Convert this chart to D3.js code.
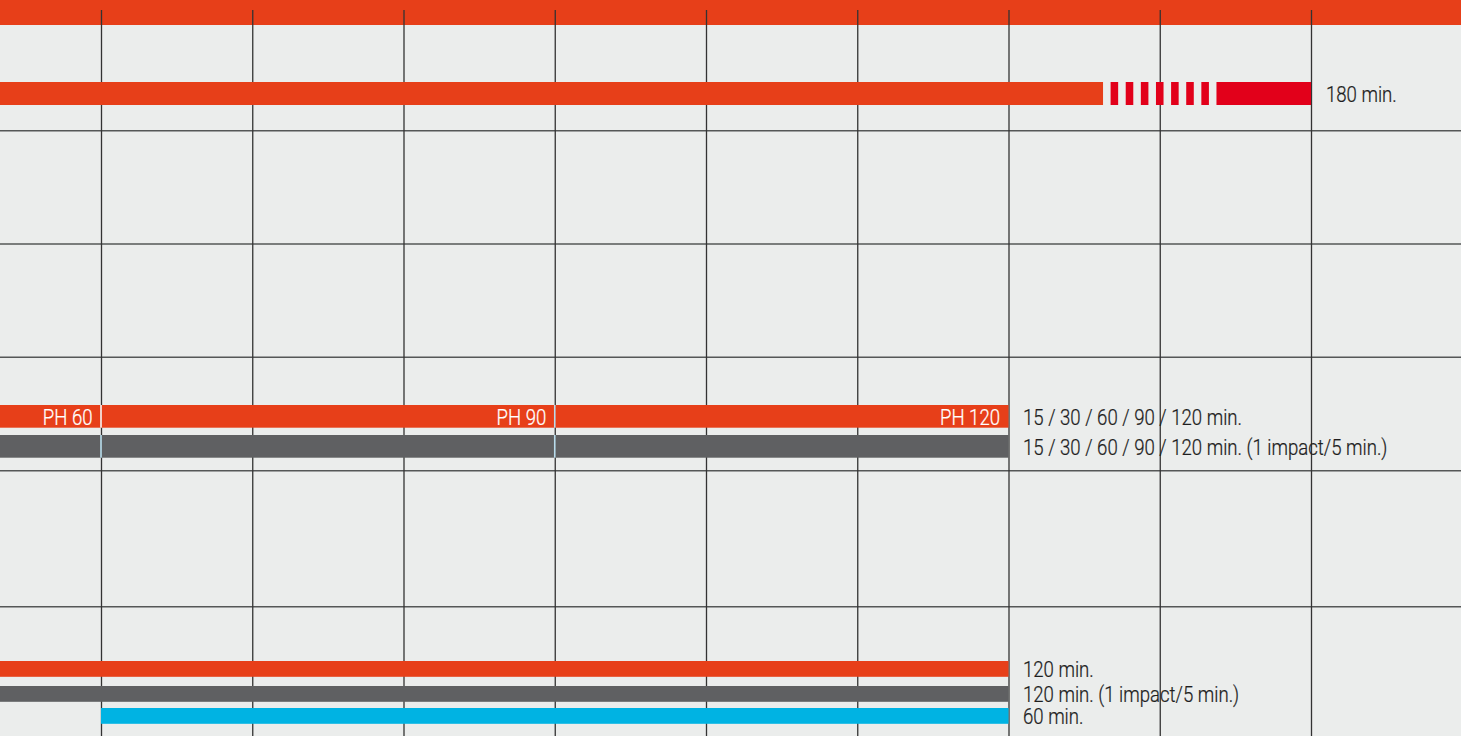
<!DOCTYPE html>
<html>
<head>
<meta charset="utf-8">
<script src="https://cdn.jsdelivr.net/npm/d3@7/dist/d3.min.js"></script>
<style>
  html, body { margin: 0; padding: 0; background: #ebedec; overflow: hidden; }
  svg { display: block; }
  text { font-family: Roboto, "Liberation Sans", sans-serif; font-weight: 300; }
</style>
</head>
<body>
<svg id="chart"></svg>
<script>
// ---------- DATA ----------
const gridMinutes = [60, 70, 80, 90, 100, 110, 120, 130, 140];
// top row: 180 min (axis broken; drawn up to the 140 grid line)
const topSolid = [0, 126.25];
const topDashes = [126.75, 127.75, 128.75, 129.75, 130.75, 131.75, 132.75];
const topDashWidth = 0.5;
const topEnd = [133.75, 140];
const topLabel = "180 min.";
// PH row
const phSegments = [[0, 60], [60, 90], [90, 120]];
const phLabels = ["PH 60", "PH 90", "PH 120"];
const phSeparators = [60, 90];
const phGray = [0, 120];
const phRowLabels = ["15 / 30 / 60 / 90 / 120 min.", "15 / 30 / 60 / 90 / 120 min. (1 impact/5 min.)"];
// bottom rows
const bottomSeries = ["orange", "gray", "blue"];
const bottomRanges = [[0, 120], [0, 120], [60, 120]];
const bottomLabels = ["120 min.", "120 min. (1 impact/5 min.)", "60 min."];

// ---------- LAYOUT ----------
const W = 1461, H = 736;
const colors = { orange: "#e73f19", red: "#e2001a", gray: "#5f6062", blue: "#00b3e3", bg: "#ebedec", sep: "#b9dcec" };
const svg = d3.select("#chart").attr("width", W).attr("height", H);
svg.append("rect").attr("width", W).attr("height", H).attr("fill", colors.bg);

const x = d3.scaleLinear().domain([60, 140]).range([101, 1311]);
const hLineY = [130.7, 244, 357.3, 470.7, 606.7];
const labelX = 1023;
const fs = 22;
const condense = 0.845;

// top band
svg.append("rect").attr("x", 0).attr("y", 0).attr("width", W).attr("height", 25).attr("fill", colors.orange);

// horizontal grid
svg.append("g").selectAll("line").data(hLineY).join("line")
  .attr("x1", 0).attr("x2", W).attr("y1", d => d).attr("y2", d => d)
  .attr("stroke", "#555757").attr("stroke-width", 1.6);

// vertical grid via axis
const axis = d3.axisTop(x).tickValues(gridMinutes).tickSize(-(H - 10)).tickFormat("");
const ag = svg.append("g").attr("transform", "translate(0,10)").call(axis);
ag.select(".domain").remove();
ag.selectAll(".tick line").attr("stroke", "#333").attr("stroke-width", 1.3);

const g = svg.append("g");
const bar = (x0, x1, y, h, fill) => g.append("rect")
  .attr("x", x(x0)).attr("y", y).attr("width", x(x1) - x(x0)).attr("height", h).attr("fill", fill);
const label = (t, xx, y, anchor, fill) => g.append("text")
  .attr("transform", `translate(${xx},${y}) scale(${condense},1)`)
  .attr("text-anchor", anchor).attr("fill", fill).attr("font-size", fs)
  .attr("stroke", fill).attr("stroke-width", 0.25).text(t);

// top row
bar(topSolid[0], topSolid[1], 82, 23, colors.orange);
g.append("g").selectAll("rect").data(topDashes).join("rect")
  .attr("x", d => x(d)).attr("y", 82).attr("width", d => x(d + topDashWidth) - x(d)).attr("height", 23)
  .attr("fill", colors.red);
bar(topEnd[0], topEnd[1], 82, 23, colors.red);
label(topLabel, 1326, 101.7, "start", "#1e1e1e");

// PH row
phSegments.forEach((s, i) => {
  bar(s[0], s[1], 405, 22.7, colors.orange);
  label(phLabels[i], x(s[1]) - 8.5, 425, "end", "#fff");
});
bar(phGray[0], phGray[1], 435, 22.7, colors.gray);
phSeparators.forEach(s => {
  g.append("rect").attr("x", x(s) - 0.8).attr("y", 405).attr("width", 1.6).attr("height", 22.7).attr("fill", s === 60 ? "#f4f4f4" : colors.sep);
  g.append("rect").attr("x", x(s) - 0.8).attr("y", 435).attr("width", 1.6).attr("height", 22.7).attr("fill", colors.sep);
});
label(phRowLabels[0], labelX, 425, "start", "#1e1e1e");
label(phRowLabels[1], labelX, 455, "start", "#1e1e1e");

// bottom rows
const bottomY = [661, 686, 708];
bottomSeries.forEach((s, i) => {
  bar(bottomRanges[i][0], bottomRanges[i][1], bottomY[i], 15.8, colors[s]);
  label(bottomLabels[i], labelX, bottomY[i] + 16.3, "start", "#1e1e1e");
});
</script>
</body>
</html>
